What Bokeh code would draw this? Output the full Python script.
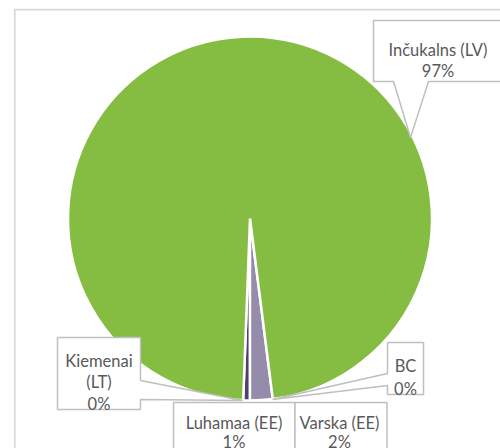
import numpy as np
from bokeh.plotting import figure
from bokeh.models import Range1d, ColumnDataSource
from bokeh.core.properties import value
from bokeh.embed import file_html
from bokeh.resources import INLINE

# ---- data (counter-clockwise order, starting just left of 6 o'clock) ----
names = ["Kiemenai (LT)", "Luhamaa (EE)", "Varska (EE)", "BC", "Inčukalns (LV)"]
shares = [0.0, 0.6, 2.0, 0.0, 97.4]
colors = ["#7F7F7F", "#4E4170", "#958BAA", "#BFBFBF", "#85BC42"]
label_lines = [["Kiemenai", "(LT)"], ["Luhamaa (EE)"], ["Varska (EE)"], ["BC"], ["Inčukalns (LV)"]]

W, H = 500, 448


def X(px):
    return px


def Y(py):
    return H - py


p = figure(width=W, height=H, x_range=Range1d(0, W), y_range=Range1d(0, H),
           output_backend="svg", toolbar_location=None, min_border=0,
           x_axis_location=None, y_axis_location=None)
p.grid.visible = False
p.outline_line_color = None
p.background_fill_color = "white"
p.border_fill_color = "white"

# chart area frame (only top/left visible in the window)
p.line([X(14.2), X(14.2), X(560)], [Y(520), Y(9.2), Y(9.2)], line_color="#D9D9D9", line_width=1.8)

# ---- pie ----
total = float(sum(shares))
frac = np.array(shares) / total
start0 = -np.pi / 2 - (frac[0] + frac[1]) * 2 * np.pi
cum = np.concatenate([[0.0], np.cumsum(frac)[:-1]])
starts = start0 + cum * 2 * np.pi
ends = starts + frac * 2 * np.pi
keep = frac > 0
cx, cy, r = X(249.5), Y(218), 182
src = ColumnDataSource(dict(start=starts[keep], end=ends[keep],
                            color=[c for c, k in zip(colors, keep) if k]))
p.wedge(x=cx, y=cy, radius=r, start_angle="start", end_angle="end", fill_color="color",
        line_color="white", line_width=2.5, source=src)

# ---- callout labels ----
pct = [f"{round(s / total * 100):.0f}%" for s in shares]

callouts = [
    [(57, 337), (140, 337), (140, 380), (242, 400), (140, 399), (140, 409), (57, 409)],
    [(173, 402), (294.5, 402), (294.5, 470), (173, 470)],
    [(294.5, 402), (386.5, 402), (386.5, 470), (294.5, 470)],
    [(387, 342), (423, 342), (423, 394), (387, 394), (387, 385), (272, 399), (387, 373)],
    [(373, 20), (520, 20), (520, 81), (428, 81), (410, 137), (393, 81), (373, 81)],
]
p.patches([[X(a) for a, b in c] for c in callouts], [[Y(b) for a, b in c] for c in callouts],
          fill_color="white", line_color="#BFBFBF", line_width=1.5)

label_x = [98.5, 233.5, 339, 405, 437.5]
label_base = [360, 422, 422, 365, 49.5]
label_step = [21.5, 19.5, 19.5, 23, 20.5]

tx, ty, tt = [], [], []
for i in range(len(names)):
    lines = label_lines[i] + [pct[i]]
    for j, ln in enumerate(lines):
        tx.append(X(label_x[i]))
        ty.append(Y(label_base[i] + j * label_step[i]))
        tt.append(ln)
p.text(x=tx, y=ty, text=tt, text_align="center", text_baseline="alphabetic",
       text_font=value("Lato"), text_font_size="16.5px", text_color="#595959")

open("out.html", "w").write(file_html(p, INLINE))
